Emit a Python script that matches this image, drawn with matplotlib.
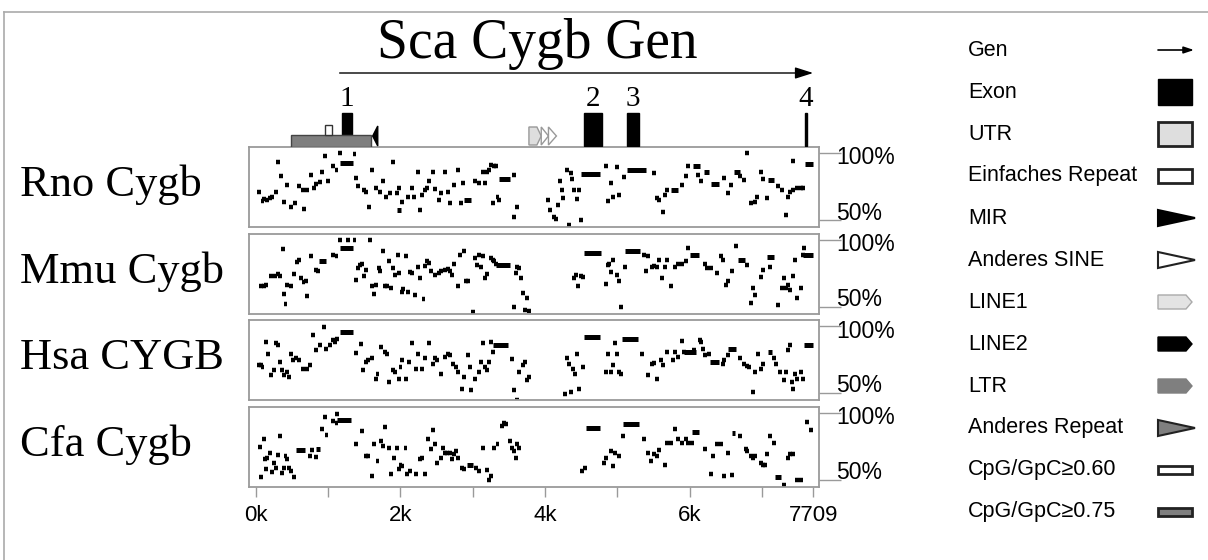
import matplotlib
matplotlib.use('Agg')
import matplotlib.pyplot as plt
from matplotlib.patches import Rectangle, Polygon

SERIF = ['Liberation Serif', 'DejaVu Serif']
SANS = ['Liberation Sans', 'DejaVu Sans']

# ---- data ---------------------------------------------------------------
seq_length = 7709
gene_span = (1163, 7709)
exons = [(1190, 1329), (4540, 4790), (5135, 5300), (7590, 7622)]
exon_labels = ['1', '2', '3', '4']
ltr = (494, 1602)
simple_repeat = (955, 1052)
mir = (1620, 1690)
line1 = (3780, 3950)
other_sine = [(3950, 4050), (4050, 4160)]

species = ['Rno Cygb', 'Mmu Cygb', 'Hsa CYGB', 'Cfa Cygb']

# long conserved segments: (start, end, percent identity)
rno_bars = [(1166, 1352, 92.5), (1950, 2014, 57.5), (2878, 2984, 65), (3366, 3514, 80.5),
            (4494, 4759, 84.5), (5130, 5395, 87.5), (5740, 5846, 72.5), (6042, 6148, 90),
            (6201, 6275, 86), (6296, 6402, 77), (6614, 6694, 85.8), (7081, 7171, 80),
            (7595, 7712, 91.8)]
# short segments: (position, percent identity)
rno_dots = [(27, 71.2), (69, 64.2), (95, 65.5), (138, 65), (175, 66.2), (201, 67), (254, 70.8),
            (281, 93.2), (323, 83), (371, 63.8), (403, 76.2), (466, 59.5), (519, 62.5),
            (572, 75.5), (625, 72.5), (641, 58.2), (689, 72.5), (742, 83.8), (784, 73.8),
            (811, 77), (864, 78.2), (890, 85.5), (933, 98), (970, 79.5), (1049, 90),
            (1092, 87.5), (1145, 100), (1341, 99.5), (1367, 81.2), (1394, 75.5), (1473, 72.5),
            (1500, 71.2), (1537, 60), (1579, 87), (1632, 73.8), (1696, 71.2), (1738, 79.5),
            (1781, 67), (1834, 70.5), (1871, 93.2), (1924, 70), (1961, 73.8), (2003, 63.8),
            (2083, 67.5), (2136, 74.2), (2162, 67.5), (2215, 85.5), (2242, 57.5), (2268, 68.8),
            (2311, 72.5), (2348, 74.2), (2374, 78.8), (2427, 85.5), (2454, 73), (2507, 65),
            (2533, 70), (2586, 85.5), (2639, 71.2), (2666, 62.5), (2719, 76.2), (2772, 87.5),
            (2809, 63), (2841, 77.5), (3010, 78.8), (3063, 78), (3116, 86.2), (3143, 77.5),
            (3169, 85.5), (3196, 87.5), (3222, 91.2), (3249, 62.5), (3275, 90), (3302, 90.5),
            (3318, 67.5), (3339, 65), (3540, 83.8), (3551, 52.5), (3593, 60),
            (4017, 65), (4044, 57.5), (4097, 52.5), (4123, 50.5), (4150, 61.2), (4176, 79.5),
            (4203, 72.5), (4229, 66.2), (4282, 87.5), (4309, 46.2), (4335, 85), (4346, 80.5),
            (4378, 72.5), (4415, 65.5), (4441, 72.5), (4468, 50), (4812, 90), (4839, 64.2),
            (4881, 77.5), (4918, 67.5), (4971, 89.5), (4998, 68.8), (5067, 81.8), (5475, 85),
            (5528, 66.2), (5554, 65), (5607, 56.2), (5634, 68.8), (5660, 72.5), (5872, 76.2),
            (5925, 83.2), (5952, 90), (6084, 83.8), (6137, 78.8), (6445, 81.2), (6508, 70),
            (6551, 76.2), (6667, 82.5), (6720, 80), (6773, 100), (6826, 62.5), (6879, 63.8),
            (6906, 67.5), (6959, 85.5), (6985, 80.5), (7038, 66.2), (7197, 75.5), (7250, 72.5),
            (7303, 53.8), (7330, 67.5), (7356, 71.2), (7409, 72.5), (7409, 93.8), (7462, 73.8),
            (7515, 73.8), (7542, 73.8)]

mmu_bars = [(874, 970, 84.2), (1166, 1341, 93.8), (3328, 3514, 80.8), (4547, 4770, 90),
            (5104, 5316, 91.8), (6005, 6137, 88.8), (6667, 6773, 85), (7065, 7171, 86.8),
            (7568, 7712, 88.8)]
mmu_dots = [(42, 65), (85, 65), (122, 66.2), (191, 72.5), (244, 72.5), (281, 74.2), (307, 72.5),
            (350, 93.2), (371, 59.2), (387, 51.8), (413, 66.2), (466, 65), (509, 74.2),
            (546, 83.2), (572, 85), (599, 71.2), (636, 68.2), (668, 69.2), (678, 57.5),
            (742, 87.5), (811, 77.5), (837, 76.2), (1049, 88.2), (1092, 87.5), (1145, 100),
            (1251, 100), (1341, 100), (1367, 70), (1394, 78.8), (1420, 81.2), (1447, 81.8),
            (1473, 72.5), (1500, 77.5), (1553, 100), (1579, 65), (1606, 59.2), (1632, 66.2),
            (1675, 78.8), (1696, 76.2), (1738, 91.2), (1765, 65), (1791, 65), (1818, 83.8),
            (1844, 63.8), (1871, 78.8), (1897, 73.8), (1940, 88.2), (1961, 75), (1993, 60.8),
            (2014, 63.2), (2056, 87.5), (2083, 61.2), (2109, 75.5), (2136, 75), (2173, 58.8),
            (2215, 79.5), (2242, 71.2), (2295, 55.8), (2321, 80), (2348, 83.8), (2374, 82.5),
            (2401, 76.8), (2454, 73.8), (2507, 75), (2533, 76.2), (2586, 77), (2639, 78.2),
            (2666, 76.2), (2692, 73.8), (2719, 81.8), (2772, 65), (2798, 88.8), (2851, 91.2),
            (2878, 68.8), (2915, 68.8), (2984, 45.8), (3010, 86.2), (3037, 81.2), (3063, 88.8),
            (3090, 79.2), (3116, 87.5), (3143, 71.2), (3169, 74.2), (3222, 86.2), (3249, 85),
            (3275, 83.8), (3302, 82), (3540, 50), (3567, 75), (3593, 79.2), (3620, 78.8),
            (3646, 71.2), (3673, 60), (3699, 47.5), (3726, 56.2), (3752, 46.8),
            (4378, 71.2), (4399, 73.8), (4431, 65), (4468, 72.5), (4494, 71.8), (4812, 66.8),
            (4839, 81.2), (4865, 81.8), (4892, 75.8), (4918, 85), (4971, 73.8), (4998, 68.8),
            (5024, 50), (5077, 79.2), (5342, 88.8), (5369, 76.2), (5395, 87.5), (5448, 79.2),
            (5475, 80), (5528, 79.2), (5554, 85), (5597, 71.2), (5634, 79.2), (5660, 85),
            (5713, 65), (5766, 79.2), (5819, 81.8), (5872, 81.8), (5925, 84.2), (5952, 93.8),
            (6190, 81.8), (6217, 78.8), (6270, 78.8), (6349, 75), (6402, 87.5), (6429, 85),
            (6482, 66.2), (6508, 68.8), (6561, 76.2), (6614, 95), (6773, 81.2), (6826, 52.5),
            (6853, 63.8), (6879, 58.8), (6959, 71.8), (6985, 77.5), (7091, 79.2), (7197, 51.2),
            (7250, 63.8), (7277, 71.2), (7303, 63.8), (7330, 66.2), (7356, 62.5), (7409, 72.5),
            (7436, 85), (7462, 56.2), (7515, 63.8), (7542, 88.8), (7558, 93.8)]

hsa_bars = [(1166, 1341, 95.8), (3286, 3487, 85.8), (4547, 4759, 91.5), (5067, 5289, 90),
            (5925, 6084, 80.8), (6286, 6402, 73.2), (6535, 6641, 82.5), (7081, 7144, 80.8),
            (7579, 7712, 85.5)]
hsa_dots = [(16, 71), (42, 70.8), (69, 69.5), (122, 88.2), (148, 79.5), (191, 63.2), (228, 67),
            (254, 87), (281, 85.8), (307, 73.2), (334, 67), (360, 63.2), (403, 65.8), (440, 62),
            (466, 79.5), (493, 74.5), (530, 75.8), (572, 74.5), (625, 68.2), (678, 68.2),
            (731, 70.8), (774, 93.2), (811, 82), (864, 85.8), (917, 99.5), (943, 83.2),
            (996, 85.8), (1049, 89.5), (1076, 88.2), (1102, 90), (1367, 80), (1431, 86.5),
            (1463, 67), (1500, 73.2), (1526, 74.5), (1579, 75.8), (1632, 60.8), (1659, 64.5),
            (1712, 84.5), (1765, 80.8), (1791, 78.8), (1818, 58.2), (1871, 67), (1897, 65.8),
            (1950, 60.8), (1977, 69.5), (2003, 74.5), (2056, 60.8), (2099, 73.2), (2136, 87),
            (2189, 68.2), (2215, 79.5), (2268, 68.2), (2321, 75.8), (2374, 87), (2427, 72),
            (2454, 75.8), (2480, 74.5), (2533, 64.5), (2586, 77), (2639, 79.5), (2666, 78.2),
            (2703, 72), (2745, 69.5), (2772, 65.8), (2825, 53.2), (2851, 62), (2904, 78.2),
            (2931, 69.5), (2957, 52), (3010, 60.8), (3063, 65.8), (3090, 73.2), (3116, 87),
            (3143, 69.5), (3169, 67), (3196, 73.2), (3222, 88.2), (3249, 80.8), (3514, 75.5),
            (3540, 52), (3583, 44.5), (3620, 65.8), (3673, 70.8), (3699, 73.2), (3726, 59.5),
            (3752, 62), (4256, 49.5), (4282, 75.8), (4309, 72), (4335, 50.8), (4362, 68.2),
            (4388, 64.5), (4415, 79.5), (4441, 53.2), (4494, 69.5), (4812, 65.8), (4839, 79.5),
            (4892, 65.8), (4918, 70.8), (4945, 87), (4971, 79.5), (4998, 65.8), (5024, 64.5),
            (5316, 79.5), (5395, 63.2), (5448, 72), (5475, 72.5), (5528, 60.8), (5581, 74.5),
            (5607, 70.8), (5660, 80.8), (5740, 75), (5766, 80.8), (5819, 77), (5862, 89),
            (5899, 80.8), (6031, 82), (6111, 89.5), (6127, 88.2), (6164, 83.2), (6190, 78.2),
            (6243, 79.5), (6429, 72), (6455, 74.5), (6508, 78.2), (6667, 75.8), (6720, 72),
            (6763, 70), (6800, 69.5), (6853, 50.8), (6879, 65.8), (6922, 79.5), (6959, 68.2),
            (6985, 72), (7144, 75.8), (7171, 72), (7224, 65.8), (7277, 59.5), (7303, 65.8),
            (7330, 82), (7356, 85.8), (7383, 58.2), (7409, 53.2), (7436, 64.5), (7462, 60.8),
            (7515, 65.8), (7542, 60.8)]

cfa_bars = [(562, 678, 71.8), (837, 890, 72.5), (1129, 1325, 94.5), (2920, 3000, 60.5),
            (4574, 4759, 88.8), (5077, 5300, 91.8), (6031, 6137, 85.8), (6588, 6625, 85),
            (7187, 7261, 52)]
cfa_dots = [(32, 74.5), (53, 52), (85, 80.5), (106, 65), (122, 57.5), (138, 66.2), (175, 69.5),
            (201, 55.5), (228, 62.5), (254, 58.8), (281, 68), (307, 82.5), (334, 55),
            (360, 58.8), (387, 67.5), (413, 65), (440, 58.8), (466, 56.2), (509, 52),
            (731, 67.5), (758, 72), (811, 66.8), (890, 87.5), (928, 96.8), (954, 83),
            (1049, 93.8), (1092, 92.5), (1102, 98.8), (1367, 76.2), (1447, 86.2), (1500, 67.5),
            (1526, 67.5), (1579, 52.5), (1606, 76.2), (1659, 63.8), (1712, 78.8), (1738, 75),
            (1765, 89.5), (1818, 73.8), (1844, 53.8), (1887, 66.2), (1924, 73.8), (1950, 58),
            (1977, 61.2), (2003, 60), (2046, 73.8), (2067, 53.8), (2109, 56.2), (2189, 54.2),
            (2242, 65), (2268, 66.2), (2321, 54.2), (2359, 80.5), (2401, 72.5), (2427, 87),
            (2454, 76.2), (2480, 62.5), (2533, 66.2), (2560, 73.8), (2586, 69.5), (2613, 69.5),
            (2666, 69.5), (2692, 65), (2719, 68.8), (2745, 71.2), (2772, 66.2), (2825, 58.8),
            (2851, 57.5), (3021, 58.8), (3063, 56.2), (3116, 73.8), (3169, 57), (3196, 49.5),
            (3222, 52.5), (3275, 73.8), (3318, 76.2), (3381, 90), (3408, 92.5), (3434, 91.2),
            (3487, 78.8), (3514, 73.8), (3540, 71.2), (3567, 66.2), (3593, 76.2), (3620, 73.8),
            (4484, 56.2), (4521, 58.8), (4786, 62.5), (4812, 66.2), (4892, 71.2), (4918, 60),
            (4945, 70), (4998, 67.5), (5051, 82.5), (5342, 80), (5395, 69.5), (5438, 63.8),
            (5475, 68.8), (5528, 67.5), (5554, 72), (5634, 61.2), (5660, 77.5), (5713, 77.5),
            (5766, 87.5), (5819, 80), (5872, 77.5), (5925, 80), (5952, 77.5), (6005, 77.5),
            (6190, 72.5), (6270, 53.8), (6296, 67.5), (6349, 76.2), (6402, 76.2), (6455, 52.5),
            (6508, 70), (6561, 53.2), (6667, 82.5), (6747, 72.5), (6773, 71.2), (6826, 67.5),
            (6853, 66.2), (6879, 67.5), (6959, 62.5), (6985, 61.2), (7012, 61.2), (7038, 68.8),
            (7091, 82.5), (7144, 77.5), (7277, 46.2), (7330, 66.2), (7367, 68.8), (7409, 68.8),
            (7462, 49.5), (7515, 49.5), (7595, 93.2), (7648, 86.8)]

tracks = [(rno_bars, rno_dots), (mmu_bars, mmu_dots), (hsa_bars, hsa_dots), (cfa_bars, cfa_dots)]

x_ticks = [0, 1000, 2000, 3000, 4000, 5000, 6000, 7000, 7709]
x_ticklabels = ['0k', '', '2k', '', '4k', '', '6k', '', '7709']

legend_labels = ['Gen', 'Exon', 'UTR', 'Einfaches Repeat', 'MIR', 'Anderes SINE', 'LINE1',
                 'LINE2', 'LTR', 'Anderes Repeat', 'CpG/GpC\u22650.60', 'CpG/GpC\u22650.75']

# ---- layout -------------------------------------------------------------
W, H = 1208, 560
fig = plt.figure(figsize=(W / 100, H / 100), dpi=100)
XLIM = (-90, 7790)
YLIM = (44.8, 104.5)
BOX_L, BOX_R = 249, 819
track_tops = [147, 233.5, 320, 406.5]
TRACK_H = 80


def px_axes(left, top, right, bottom):
    return fig.add_axes([left / W, 1 - bottom / H, (right - left) / W, (bottom - top) / H])


# overlay in pixel coordinates for free text / legend
over = px_axes(0, 0, W, H)
over.set_xlim(0, W)
over.set_ylim(H, 0)
over.axis('off')
over.set_zorder(5)

# figure frame (top + left)
over.plot([4, W], [12, 12], color='#aaaaaa', lw=1.2)
over.plot([4, 4], [12, H], color='#aaaaaa', lw=1.2)

for i, (top, name, (bars, dots)) in enumerate(zip(track_tops, species, tracks)):
    ax = px_axes(BOX_L, top, BOX_R, top + TRACK_H)
    ax.set_xlim(*XLIM)
    ax.set_ylim(*YLIM)
    for sp in ax.spines.values():
        sp.set_color('#9a9a9a')
        sp.set_linewidth(1.3)
    ax.hlines([b[2] for b in bars], [b[0] for b in bars], [b[1] for b in bars],
              colors='black', lw=3.6, capstyle='butt')
    ax.hlines([d[1] for d in dots], [d[0] for d in dots], [d[0] + 55 for d in dots],
              colors='black', lw=3.2, capstyle='butt')
    ax.yaxis.tick_right()
    ax.set_yticks([50, 100])
    ax.set_yticklabels([])
    ax.tick_params(axis='y', length=16, width=1, color='#9a9a9a')
    if i == 3:
        ax.set_xticks(x_ticks)
        ax.set_xticklabels(x_ticklabels, family=SANS, fontsize=16)
        ax.tick_params(axis='x', length=7, width=1, color='#9a9a9a', pad=6)
    else:
        ax.set_xticks([])
    over.text(20, top + TRACK_H / 2 - 2, name, family=SERIF, fontsize=32, ha='left', va='center')
    over.text(836, top + 11, '100%', family=SANS, fontsize=16.5, ha='left', va='center')
    over.text(836, top + 66, '50%', family=SANS, fontsize=16.5, ha='left', va='center')

# gene annotation strip (x in bp, y in pixels)
ann = px_axes(BOX_L, 20, BOX_R, 147)
ann.set_xlim(*XLIM)
ann.set_ylim(147, 20)
ann.axis('off')
ann.text(seq_length / 2 + 40, 44, 'Sca Cygb Gen', family=SERIF, fontsize=40, ha='center', va='center')
ann.annotate('', xy=(gene_span[1], 73), xytext=(gene_span[0], 73),
             arrowprops=dict(arrowstyle='-|>,head_length=1.1,head_width=0.35', color='black',
                             lw=1, shrinkA=0, shrinkB=0))
for (s, e), lab in zip(exons, exon_labels):
    ann.add_patch(Rectangle((s, 113), e - s, 33, color='black', zorder=2))
    ann.text((s + e) / 2, 99, lab, family=SERIF, fontsize=21, ha='center', va='center')
ann.add_patch(Rectangle((ltr[0], 135), ltr[1] - ltr[0], 11.5, facecolor='#7f7f7f',
                        edgecolor='#444444', lw=1, zorder=3))
ann.add_patch(Rectangle((simple_repeat[0], 125), simple_repeat[1] - simple_repeat[0], 10,
                        facecolor='white', edgecolor='#333333', lw=1, zorder=3))
ann.add_patch(Polygon([(mir[0], 136), (mir[1], 126), (mir[1], 146)], color='black', zorder=3))
l1 = line1[0], line1[1]
ann.add_patch(Polygon([(l1[0], 127), (l1[1] - 60, 127), (l1[1], 136), (l1[1] - 60, 145), (l1[0], 145)],
                      facecolor='#dedede', edgecolor='#999999', lw=1, zorder=3))
for s, e in other_sine:
    ann.add_patch(Polygon([(s, 127), (e, 136), (s, 145)], facecolor='white',
                          edgecolor='#999999', lw=1, zorder=3))

# legend
LX0, LX1 = 1158, 1192
leg_y = [50 + 42 * k for k in range(len(legend_labels))]
for lab, y in zip(legend_labels, leg_y):
    over.text(968, y, lab, family=SANS, fontsize=15.5, ha='left', va='center')


def pent(y, h, fc, ec):
    return Polygon([(LX0, y - h), (LX1 - 6, y - h), (LX1, y), (LX1 - 6, y + h), (LX0, y + h)],
                   facecolor=fc, edgecolor=ec, lw=1)


def tri(y, h, fc, ec):
    return Polygon([(LX0, y - h), (LX1 + 3, y), (LX0, y + h)], facecolor=fc, edgecolor=ec, lw=1.5)


over.annotate('', xy=(LX1 + 2, leg_y[0]), xytext=(LX0, leg_y[0]),
              arrowprops=dict(arrowstyle='-|>,head_length=0.6,head_width=0.2', color='black',
                              lw=1.2, shrinkA=0, shrinkB=0))
over.add_patch(Rectangle((LX0, leg_y[1] - 13), LX1 - LX0, 26, color='black'))
over.add_patch(Rectangle((LX0, leg_y[2] - 12), LX1 - LX0, 24, facecolor='#dedede', edgecolor='#222222', lw=2))
over.add_patch(Rectangle((LX0, leg_y[3] - 7), LX1 - LX0, 14, facecolor='white', edgecolor='#222222', lw=2))
over.add_patch(tri(leg_y[4], 8, 'black', 'black'))
over.add_patch(tri(leg_y[5], 8, 'white', '#222222'))
over.add_patch(pent(leg_y[6], 7, '#e3e3e3', '#aaaaaa'))
over.add_patch(pent(leg_y[7], 7, 'black', 'black'))
over.add_patch(pent(leg_y[8], 7, '#7f7f7f', '#7f7f7f'))
over.add_patch(tri(leg_y[9], 8, '#7f7f7f', '#222222'))
over.add_patch(Rectangle((LX0, leg_y[10] - 4), LX1 - LX0, 8, facecolor='white', edgecolor='#222222', lw=2))
over.add_patch(Rectangle((LX0, leg_y[11] - 4), LX1 - LX0, 8, facecolor='#7f7f7f', edgecolor='#222222', lw=2))

fig.savefig('out.png', dpi=100)
